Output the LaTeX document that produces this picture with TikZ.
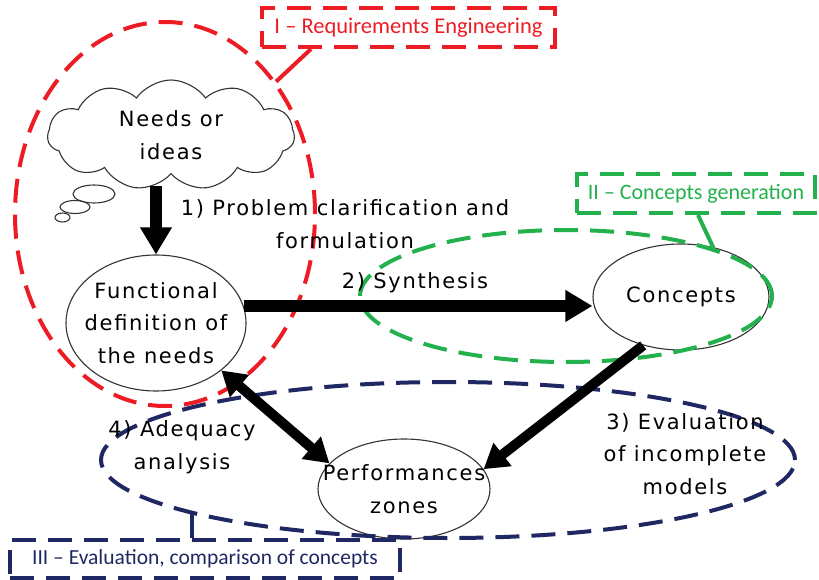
\documentclass[tikz,border=0pt]{standalone}
\usepackage{fontspec}
\setmainfont{DejaVu Sans}[LetterSpace=8]
\newfontfamily\boxfont{Carlito}
\usetikzlibrary{shapes.geometric,shapes.symbols,arrows.meta}
\definecolor{reqred}{RGB}{237,28,36}
\definecolor{congreen}{RGB}{34,177,76}
\definecolor{evalblue}{RGB}{31,40,98}
\tikzset{
  hand/.style={font=\fontsize{21}{32.5}\selectfont, align=center},
  bubble/.style={ellipse, draw=black!80, line width=1.1pt, inner sep=0pt},
  zone/.style={ellipse, draw, line width=4pt, dash pattern=on 24pt off 12pt, inner sep=0pt},
  tagbox/.style={rectangle, draw, line width=4pt, dash pattern=on 24pt off 12pt, inner sep=0pt},
  bigarrow/.style={line width=12pt, -{Triangle[length=27pt,width=30pt]}},
  midarrow/.style={line width=10pt, -{Triangle[length=24pt,width=28pt]}},
  dblarrow/.style={line width=10pt, {Triangle[length=24pt,width=28pt]}-{Triangle[length=24pt,width=28pt]}},
}
\begin{document}
\begin{tikzpicture}[x=1pt,y=-1pt]
\useasboundingbox (0,0) rectangle (819,580);
% content nodes
\node[cloud, cloud puffs=11, cloud puff arc=110, cloud ignores aspect, draw=black!80, line width=1.1pt,
      minimum width=247pt, minimum height=110pt, inner sep=0pt] (needs) at (171,135) {};
\node[hand] (needst) at (needs) {Needs or\\ideas};
\node[bubble, minimum width=42pt, minimum height=18pt] (tb1) at (94,194) {};
\node[bubble, minimum width=30pt, minimum height=13pt] (tb2) at (75,207) {};
\node[bubble, minimum width=15pt, minimum height=9pt] (tb3) at (62.5,217.5) {};
\node[bubble, minimum width=180pt, minimum height=136pt] (func) at (156,323) {};
\node[hand] (funct) at (func) {Functional\\definition of\\the needs};
\node[bubble, minimum width=176pt, minimum height=106pt] (conc) at (681,297) {};
\node[hand] (conct) at (conc) {Concepts};
\node[bubble, minimum width=172pt, minimum height=100pt] (perf) at (404,489) {};
\node[hand] (perft) at (perf) {Performances\\zones};
% zones
\node[zone, draw=reqred, minimum width=300pt, minimum height=384pt] (reqz) at (165,214) {};
\node[zone, draw=congreen, minimum width=412pt, minimum height=132pt] (conz) at (566,296) {};
\node[zone, draw=evalblue, minimum width=694pt, minimum height=156pt] (evz) at (448,460) {};
% tags
\node[tagbox, draw=reqred, text=reqred, minimum width=293pt, minimum height=39pt,
      font=\boxfont\fontsize{22.5}{24}\selectfont] (reqtag) at (408.5,27.5) {I – Requirements Engineering};
\node[tagbox, draw=congreen, text=congreen, minimum width=238pt, minimum height=39pt,
      font=\boxfont\fontsize{22}{24}\selectfont] (contag) at (696,193.5) {II – Concepts generation};
\node[tagbox, draw=evalblue, text=evalblue, minimum width=390pt, minimum height=38pt,
      font=\boxfont\fontsize{21.5}{24}\selectfont] (evtag) at (205,559) {III – Evaluation, comparison of concepts};
\draw[reqred, line width=4pt] (reqtag.south west) ++(51,0) coordinate (rq0) -- (reqz.50);
\draw[congreen, line width=4pt] (contag.south west) ++(123,0) coordinate (cg0) -- (conz.18);
\draw[evalblue, line width=4pt] (evz.192) -- (evz.192 |- evtag.north);
% arrows
\draw[bigarrow] ([yshift=-12pt]needs.south -| func.north) -- (func.north);
\draw[bigarrow] (func.11) -- (func.11 -| conc.west);
\draw[midarrow] (conc.232) -- (perf.14);
\draw[dblarrow] (func.-36) -- (perf.161);
% labels
\node[hand] (l1) at (345,224) {1) Problem clarification and\\formulation};
\node[hand] (l2) at (415,283) {2) Synthesis};
\node[hand] (l4) at (182,447) {4) Adequacy\\analysis};
\node[hand] (l3) at (685,454) {3) Evaluation\\of incomplete\\models};
\end{tikzpicture}
\end{document}
